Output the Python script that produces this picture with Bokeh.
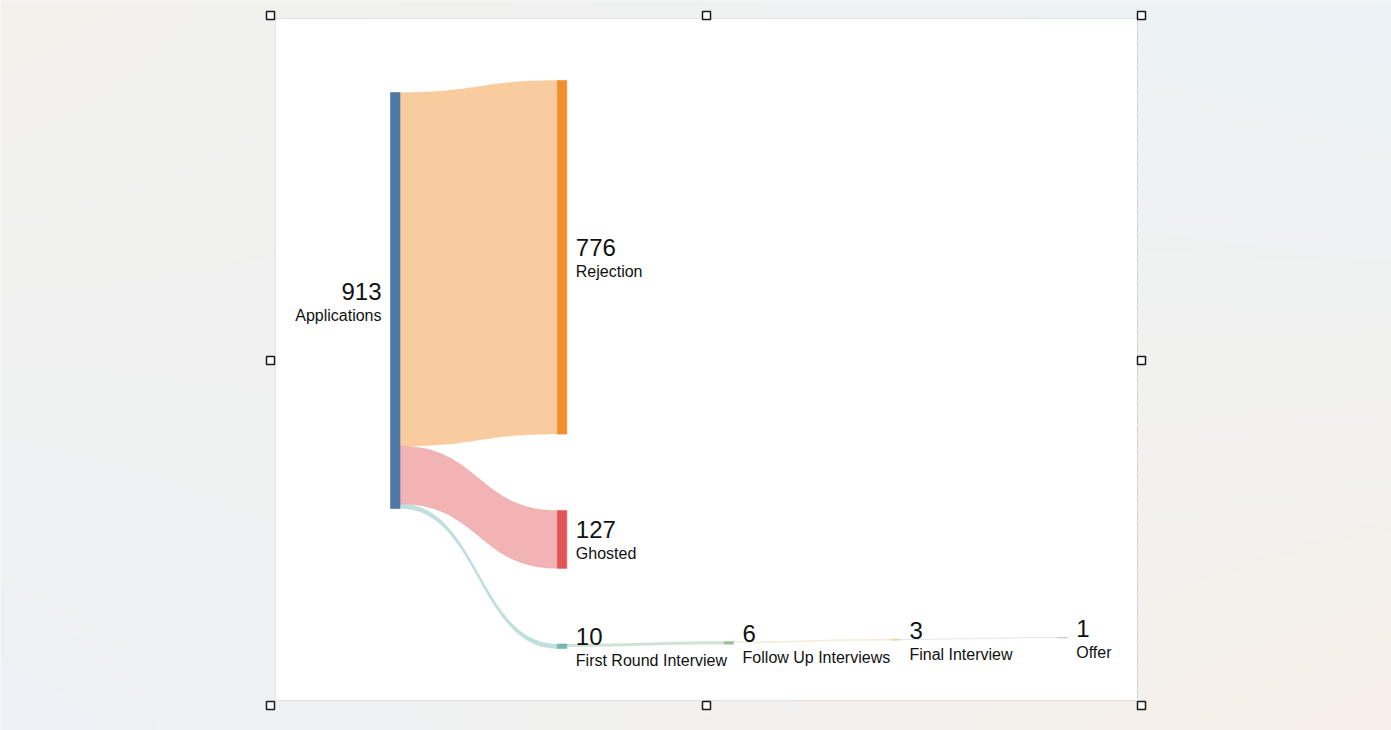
import numpy as np
from bokeh.plotting import figure
from bokeh.models import Range1d, ColumnDataSource
from bokeh.core.properties import value
from bokeh.embed import file_html
from bokeh.resources import INLINE

# ---------------- data ----------------
node_names = ["Applications", "Rejection", "Ghosted", "First Round Interview",
              "Follow Up Interviews", "Final Interview", "Offer"]
node_values = [913, 776, 127, 10, 6, 3, 1]
link_source = ["Applications", "Applications", "Applications",
               "First Round Interview", "Follow Up Interviews", "Final Interview"]
link_target = ["Rejection", "Ghosted", "First Round Interview",
               "Follow Up Interviews", "Final Interview", "Offer"]
link_values = [776, 127, 10, 6, 3, 1]

# ---------------- layout / style ----------------
node_colors = ["#4e79a7", "#f28e2b", "#e15759", "#76b7b2", "#9cc0a2", "#e6dcb4", "#c4bcc4"]
node_column = [0, 1, 1, 1, 2, 3, 4]
node_top = [92, 80, 510, 643.5, 641, 638.5, 637]
col_x0 = 390.0
col_step = 166.8
node_w = 9.5
K = 416.0 / 913.0  # pixels per unit

W, H = 1391, 730
p = figure(width=W, height=H, x_range=Range1d(0, W), y_range=Range1d(H, 0),
           output_backend="svg", toolbar_location=None, min_border=0)
p.axis.visible = False
p.grid.visible = False
p.outline_line_color = None
p.background_fill_color = "#eff2f3"
p.border_fill_color = "#eff2f3"

# background gradient
gh, gw = 146, 279
yy, xx = np.mgrid[0:1:complex(0, gh), 0:1:complex(0, gw)]
TL = np.array([243, 241, 236]); TR = np.array([236, 243, 247])
BL = np.array([238, 242, 246]); BR = np.array([247, 240, 233])
img = np.zeros((gh, gw), dtype=np.uint32)
view = img.view(dtype=np.uint8).reshape((gh, gw, 4))
for c in range(3):
    top = TL[c] * (1 - xx) + TR[c] * xx
    bot = BL[c] * (1 - xx) + BR[c] * xx
    view[:, :, c] = (top * (1 - yy) + bot * yy).astype(np.uint8)
view[:, :, 3] = 255
p.image_rgba(image=[img], x=0, y=0, dw=W, dh=H)

# white panel
p.quad(left=[275], right=[1137], top=[18], bottom=[700], fill_color="white",
       line_color="#e3e3e3", line_width=1)
p.segment(x0=[1137], y0=[18], x1=[1137], y1=[700], line_color="#cfcfcf",
          line_dash="8 4", line_width=1)

# handles
hx = [270, 706, 1141, 270, 1141, 270, 706, 1141]
hy = [15, 15, 15, 360, 360, 705, 705, 705]
p.rect(x=hx, y=hy, width=8, height=8, fill_color="white", line_color="#1a1a1a",
       line_width=1.5)

# node geometry
idx = {n: i for i, n in enumerate(node_names)}
nx0 = [col_x0 + col_step * c for c in node_column]
nx1 = [x + node_w for x in nx0]
nh = [v * K for v in node_values]
nbot = [t + h for t, h in zip(node_top, nh)]

# links
src_off = list(node_top)
tgt_off = list(node_top)
xs, ys, lcols = [], [], []
t = np.linspace(0, 1, 60)
for s, d, v in zip(link_source, link_target, link_values):
    si, ti = idx[s], idx[d]
    h = v * K
    x0, x1 = nx1[si], nx0[ti]
    xm = (x0 + x1) / 2
    sy, ty = src_off[si], tgt_off[ti]
    src_off[si] += h
    tgt_off[ti] += h
    bx = (1 - t) ** 3 * x0 + 3 * (1 - t) ** 2 * t * xm + 3 * (1 - t) * t ** 2 * xm + t ** 3 * x1
    def by(a, b):
        return (1 - t) ** 3 * a + 3 * (1 - t) ** 2 * t * a + 3 * (1 - t) * t ** 2 * b + t ** 3 * b
    top_y = by(sy, ty)
    bot_y = by(sy + h, ty + h)
    xs.append(list(bx) + list(bx[::-1]))
    ys.append(list(top_y) + list(bot_y[::-1]))
    lcols.append(node_colors[ti])

p.patches(xs=xs, ys=ys, fill_color=lcols, fill_alpha=0.45, line_color=lcols,
          line_alpha=0.2, line_width=0.6)

# nodes
p.quad(left=nx0, right=nx1, top=node_top, bottom=nbot, fill_color=node_colors,
       line_color=node_colors, line_width=0.6)

# labels
ncent = [(a + b) / 2 for a, b in zip(node_top, nbot)]
lab_x = [nx0[i] - 9 if node_column[i] == 0 else nx1[i] + 9 for i in range(len(node_names))]
align = ["right" if node_column[i] == 0 else "left" for i in range(len(node_names))]
src = ColumnDataSource(dict(x=lab_x, yn=[c - 9.5 for c in ncent], yl=[c + 14.5 for c in ncent],
                            num=[str(v) for v in node_values], name=node_names, align=align))
p.text(x="x", y="yn", text="num", source=src, text_align="align", text_baseline="middle",
       text_font=value("Liberation Sans"), text_font_size="24px", text_color="#111111")
p.text(x="x", y="yl", text="name", source=src, text_align="align", text_baseline="middle",
       text_font=value("Liberation Sans"), text_font_size="16px", text_color="#111111")

open("out.html", "w").write(file_html(p, INLINE))
